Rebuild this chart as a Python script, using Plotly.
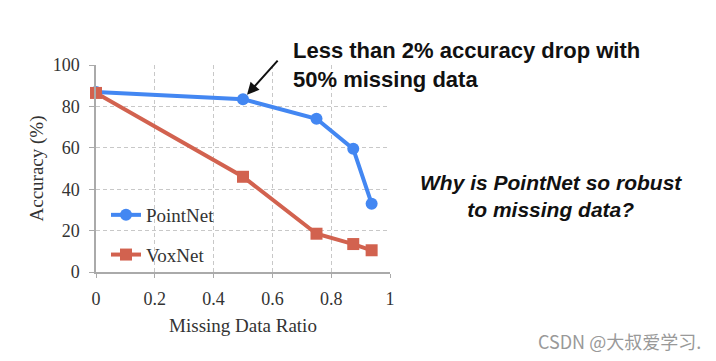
import plotly.graph_objects as go

missing_ratio = [0, 0.5, 0.75, 0.875, 0.9375]
pointnet_acc = [87, 83.5, 74, 59.5, 33]
voxnet_acc = [86.5, 46, 18.5, 13.5, 10.5]
x_ticks = [0, 0.2, 0.4, 0.6, 0.8, 1]
x_tick_labels = ["0", "0.2", "0.4", "0.6", "0.8", "1"]
y_ticks = [0, 20, 40, 60, 80, 100]

blue = "#4387f2"
red = "#d2624f"
serif = "Liberation Serif, Times New Roman, serif"
sans = "Liberation Sans, Arial, sans-serif"

# page offset compensation (body margin ~8px)
OX, OY = 8, 8
L, T, PW, PH = 96 - OX, 65 - OY, 294, 207

def px(xp):
    return (xp - OX - L) / PW

def py(yp):
    return (T + PH - (yp - OY)) / PH

fig = go.Figure()
fig.add_trace(go.Scatter(x=missing_ratio, y=pointnet_acc, name="PointNet",
                         mode="lines+markers", line=dict(color=blue, width=4),
                         marker=dict(symbol="circle", size=12, color=blue),
                         legendgroup="a", cliponaxis=False))
fig.add_trace(go.Scatter(x=missing_ratio, y=voxnet_acc, name="VoxNet",
                         mode="lines+markers", line=dict(color=red, width=4),
                         marker=dict(symbol="square", size=12, color=red),
                         legendgroup="b", cliponaxis=False))

fig.update_layout(
    width=716, height=361,
    margin=dict(l=L, r=716 - L - PW, t=T, b=361 - T - PH, autoexpand=False),
    paper_bgcolor="white", plot_bgcolor="white",
    showlegend=True,
    legend=dict(x=px(106), y=py(196), xanchor="left", yanchor="top",
                bgcolor="rgba(0,0,0,0)", font=dict(family=serif, size=19, color="#333"),
                traceorder="grouped", tracegroupgap=12, itemwidth=30),
    font=dict(family=serif, color="#333"),
)
fig.update_xaxes(range=[0, 1], tickvals=x_ticks, ticktext=x_tick_labels,
                 showgrid=True, gridcolor="#c8c8c8", griddash="4px,3px", gridwidth=1,
                 zeroline=False, showline=True, linecolor="#aaaaaa", linewidth=1.5,
                 ticks="outside", ticklen=4, tickcolor="#aaaaaa", tickwidth=1,
                 ticklabelstandoff=6,
                 tickfont=dict(family=serif, size=18, color="#333"),
                 title=dict(text="Missing Data Ratio", font=dict(family=serif, size=19, color="#333"),
                            standoff=10))
fig.update_yaxes(range=[0, 100], tickvals=y_ticks,
                 showgrid=True, gridcolor="#c8c8c8", griddash="4px,3px", gridwidth=1,
                 zeroline=False, showline=True, linecolor="#aaaaaa", linewidth=1.5,
                 ticks="outside", ticklen=5, tickcolor="#aaaaaa", tickwidth=1,
                 ticklabelstandoff=6,
                 tickfont=dict(family=serif, size=18, color="#333"),
                 title=dict(text="Accuracy (%)", font=dict(family=serif, size=19, color="#333"),
                            standoff=4))

fig.add_annotation(x=missing_ratio[1], y=pointnet_acc[1], xref="x", yref="y",
                   ax=36, ay=-40, text="", showarrow=True, arrowhead=2, arrowsize=1.2,
                   arrowwidth=2, arrowcolor="#111", standoff=6)
fig.add_annotation(x=px(291), y=py(36), xref="paper", yref="paper",
                   xanchor="left", yanchor="top", align="left", showarrow=False,
                   text="<b>Less than 2% accuracy drop with<br>50% missing data</b>",
                   font=dict(family=sans, size=22, color="#111"))
fig.add_annotation(x=px(551), y=py(196), xref="paper", yref="paper",
                   xanchor="center", yanchor="middle", align="center", showarrow=False,
                   text="<b><i>Why is PointNet so robust<br>to missing data?</i></b>",
                   font=dict(family=sans, size=21, color="#111"))
fig.add_annotation(x=px(703), y=py(341), xref="paper", yref="paper",
                   xanchor="right", yanchor="middle", showarrow=False,
                   text="CSDN @大叔爱学习.",
                   font=dict(family="Noto Sans CJK SC, sans-serif", size=18, color="#999"))

fig.write_html("out.html")
